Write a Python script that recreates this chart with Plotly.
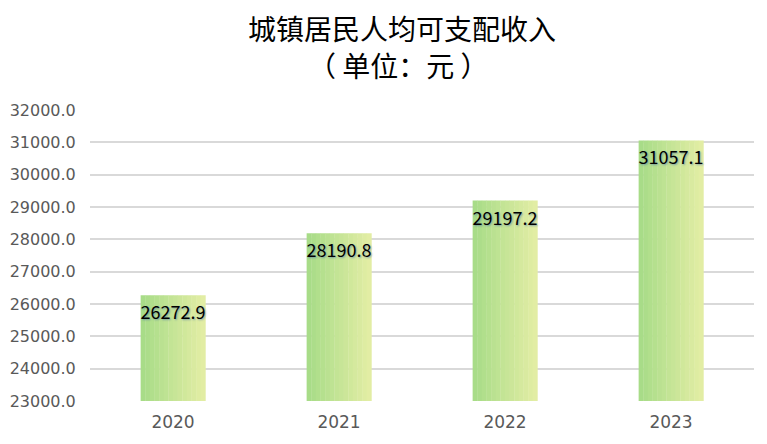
import plotly.graph_objects as go

# Data
years = ['2020', '2021', '2022', '2023']
income = [26272.9, 28190.8, 29197.2, 31057.1]
labels = ['26272.9', '28190.8', '29197.2', '31057.1']
y_ticks = [23000, 24000, 25000, 26000, 27000, 28000, 29000, 30000, 31000, 32000]

title_line1 = '城镇居民人均可支配收入'
title_line2 = '（ 单位：元 ）'

# Bar fill: left-to-right gradient faked with thin overlaid slices
bar_width = 0.39
n_slices = 14
start_rgb = (168, 220, 136)
end_rgb = (226, 237, 164)

fig = go.Figure()

for i in range(n_slices):
    t = i / (n_slices - 1)
    rgb = tuple(round(a + (b - a) * t) for a, b in zip(start_rgb, end_rgb))
    fig.add_trace(go.Bar(
        x=years, y=income,
        width=bar_width / n_slices + 0.002,
        offset=-bar_width / 2 + i * bar_width / n_slices,
        marker=dict(color='rgb(%d,%d,%d)' % rgb, line=dict(width=0)),
        hoverinfo='skip',
        showlegend=False,
    ))

# Transparent bar carrying the data labels
fig.add_trace(go.Bar(
    x=years, y=income,
    width=bar_width,
    marker=dict(color='rgba(0,0,0,0)', line=dict(width=0)),
    text=labels,
    textposition='inside',
    insidetextanchor='end',
    textangle=0,
    textfont=dict(size=18, color='#000000', family='Noto Sans CJK SC',
                  shadow='1px 1px 2px rgba(70,110,170,0.6)'),
    cliponaxis=False,
    showlegend=False,
))

# page body has an 8px margin, so the figure is sized to stay fully visible
fig.update_layout(
    width=759, height=436,
    barmode='overlay',
    plot_bgcolor='white',
    paper_bgcolor='white',
    margin=dict(l=82, r=13, t=102, b=43, autoexpand=False),
    font=dict(family='Noto Sans CJK SC'),
    uniformtext=dict(minsize=18, mode='show'),
    annotations=[
        dict(text=title_line1, xref='paper', yref='paper', x=0.47, y=1.282,
             xanchor='center', yanchor='middle', showarrow=False,
             font=dict(size=28, color='#000000', family='Noto Sans CJK SC')),
        dict(text=title_line2, xref='paper', yref='paper', x=0.465, y=1.156,
             xanchor='center', yanchor='middle', showarrow=False,
             font=dict(size=28, color='#000000', family='Noto Sans CJK SC')),
    ],
)

fig.update_xaxes(
    type='category',
    showgrid=False,
    showline=False,
    ticks='outside',
    ticklen=6,
    tickcolor='white',
    tickfont=dict(size=17, color='#595959', family='DejaVu Sans'),
)

fig.update_yaxes(
    range=[23000, 32000],
    tickvals=y_ticks,
    tickformat='.1f',
    automargin=False,
    showgrid=True,
    gridcolor='#d9d9d9',
    gridwidth=1.5,
    zeroline=False,
    showline=False,
    ticks='outside',
    ticklen=10,
    tickcolor='white',
    tickfont=dict(size=16, color='#595959', family='DejaVu Sans'),
)

fig.write_html("out.html")
